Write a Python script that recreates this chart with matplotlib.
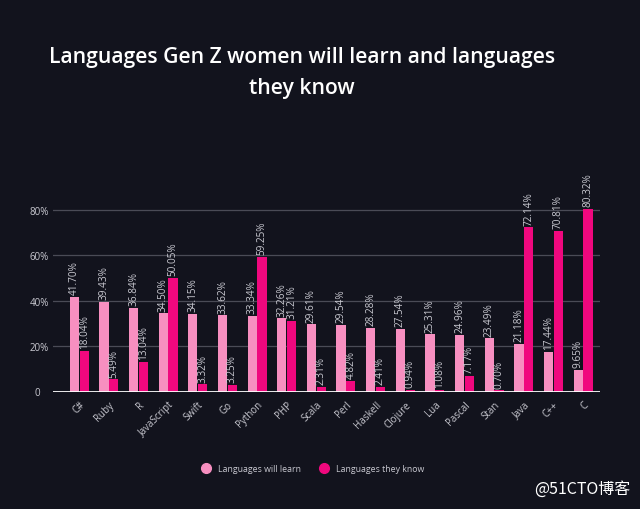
import matplotlib
matplotlib.use("Agg")
from matplotlib import pyplot as plt
from matplotlib.lines import Line2D
import numpy as np

languages = ["C#", "Ruby", "R", "JavaScript", "Swift", "Go", "Python", "PHP", "Scala",
             "Perl", "Haskell", "Clojure", "Lua", "Pascal", "Stan", "Java", "C++", "C"]
will_learn = [41.70, 39.43, 36.84, 34.50, 34.15, 33.62, 33.34, 32.26, 29.61,
              29.54, 28.28, 27.54, 25.31, 24.96, 23.49, 21.18, 17.44, 9.65]
they_know = [18.04, 5.49, 13.04, 50.05, 3.32, 3.25, 59.25, 31.21, 2.31,
             4.82, 2.41, 0.94, 1.08, 7.17, 0.70, 72.14, 70.81, 80.32]
yticks = [0, 20, 40, 60, 80]
ytick_labels = ["0", "20%", "40%", "60%", "80%"]

bg = "#12131d"
light = "#f78fc0"
dark = "#f0087e"
txt = "#c9c9d1"

plt.rcParams['font.family'] = ['Open Sans', 'DejaVu Sans']

fig = plt.figure(figsize=(6.4, 5.1), dpi=100, facecolor=bg)
ax = fig.add_axes([0.083, 0.2294, 0.8545, 0.36])
ax.set_facecolor(bg)

x = np.arange(len(languages))
w = 0.31
b1 = ax.bar(x - w / 2 - 0.01, will_learn, width=w, color=light, zorder=3)
b2 = ax.bar(x + w / 2 + 0.01, they_know, width=w, color=dark, zorder=3)

for bars, vals in ((b1, will_learn), (b2, they_know)):
    for rect, v in zip(bars, vals):
        ax.annotate(f"{v:.2f}%", (rect.get_x() + rect.get_width() / 2, v),
                    xytext=(0, 2), textcoords="offset points", rotation=90,
                    ha="center", va="bottom", fontsize=7.2, color=txt)

ax.set_xlim(-0.88, 17.57)
ax.set_ylim(0, 80.5)
ax.set_yticks(yticks[1:])
ax.set_yticklabels(ytick_labels[1:])
ax.grid(axis="y", color="#4a4b56", linewidth=0.9, zorder=0)
ax.axhline(0, color="white", linewidth=2, zorder=4)
ax.text(-0.88 - 0.45, 0, "0", ha="right", va="center", fontsize=7, color=txt)

ax.set_xticks(x)
ax.set_xticklabels(languages, rotation=45, ha="right", rotation_mode="anchor",
                   fontsize=7, color=txt)
ax.tick_params(axis="y", length=0, pad=3, labelsize=7, labelcolor=txt)
ax.tick_params(axis="x", length=0, pad=5)
for s in ax.spines.values():
    s.set_visible(False)

fig.text(0.472, 0.857, "Languages Gen Z women will learn and languages\nthey know",
         ha="center", va="center", fontsize=15.2, fontweight="semibold",
         color="white", linespacing=1.62)

handles = [Line2D([], [], marker="o", linestyle="", markersize=7, color=light),
           Line2D([], [], marker="o", linestyle="", markersize=7, color=dark)]
fig.legend(handles, ["Languages will learn", "Languages they know"], loc="center",
           bbox_to_anchor=(0.485, 0.08), ncol=2, frameon=False, fontsize=6.3,
           labelcolor=txt, handletextpad=0.4, columnspacing=1.6)

fig.text(0.985, 0.04, "@51CTO博客", ha="right", va="center", fontsize=11.5,
         color="white", family=["Noto Sans CJK SC", "DejaVu Sans"])

fig.savefig("out.png", dpi=100, facecolor=bg)
